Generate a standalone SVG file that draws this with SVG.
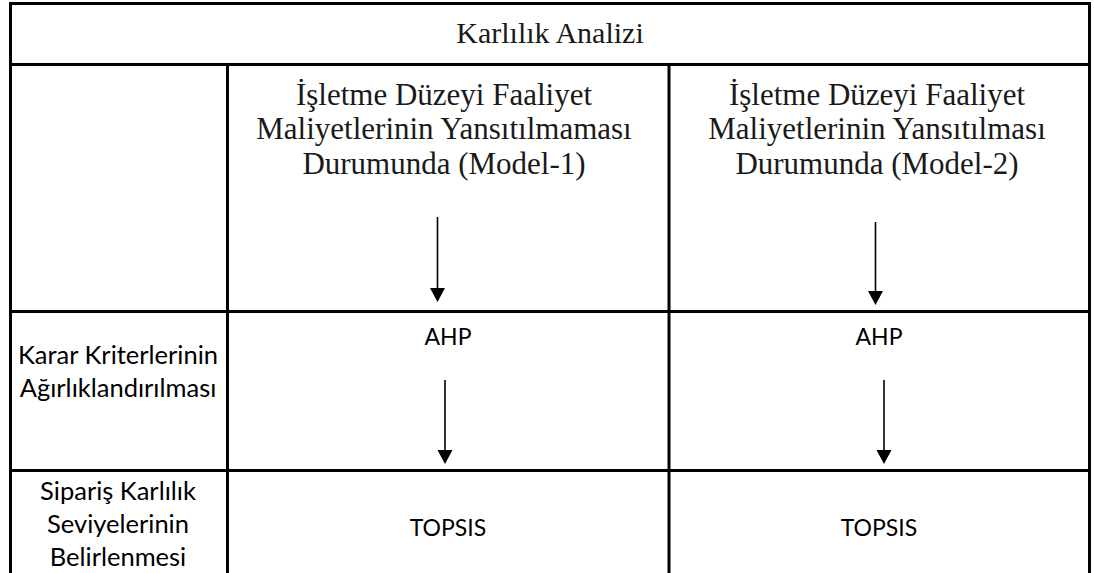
<svg xmlns="http://www.w3.org/2000/svg" width="1094" height="573" viewBox="0 0 1094 573">
<style>
.grid{stroke:#000;stroke-width:3;fill:none}
.serif{font-family:"Liberation Serif","Times New Roman",serif;font-size:31px;fill:#1a1a1a;text-anchor:middle}
.ttl{font-size:30px}
.sans{font-family:Lato,"Liberation Sans",sans-serif;font-size:25.5px;fill:#000;text-anchor:middle}
.cell{font-size:23px}
.arr{stroke:#000;stroke-width:1.6;fill:none}
</style>
<rect width="1094" height="573" fill="#fff"/>
<g id="table" class="grid">
<path d="M10.5 573V3.5H1089.5V573"/>
<path d="M9 64.5H1091"/>
<path d="M9 311.5H1091"/>
<path d="M9 470.5H1091"/>
<path d="M227.5 64.5V573"/>
<path d="M669 64.5V573"/>
</g>
<g id="title"><text class="serif ttl" x="550" y="43">Karlılık Analizi</text></g>
<g id="model1"><text class="serif" x="444" y="104.5">İşletme Düzeyi Faaliyet</text><text class="serif" x="444" y="139">Maliyetlerinin Yansıtılmaması</text><text class="serif" x="444" y="173.5">Durumunda (Model-1)</text></g>
<g id="model2"><text class="serif" x="877" y="104.5">İşletme Düzeyi Faaliyet</text><text class="serif" x="877" y="139">Maliyetlerinin Yansıtılması</text><text class="serif" x="877" y="173.5">Durumunda (Model-2)</text></g>
<g id="label-ahp"><text class="sans" x="118" y="364">Karar Kriterlerinin</text><text class="sans" x="118" y="397">Ağırlıklandırılması</text></g>
<g id="label-topsis"><text class="sans" x="118" y="500">Sipariş Karlılık</text><text class="sans" x="118" y="533">Seviyelerinin</text><text class="sans" x="118" y="566">Belirlenmesi</text></g>
<g id="ahp1"><text class="sans cell" x="448" y="345">AHP</text></g>
<g id="ahp2"><text class="sans cell" x="879" y="345">AHP</text></g>
<g id="topsis1"><text class="sans cell" x="448" y="536">TOPSIS</text></g>
<g id="topsis2"><text class="sans cell" x="879" y="536">TOPSIS</text></g>
<g id="connectors">
<path class="arr" d="M437.5 217V290"/><path d="M430 288H445L437.5 302Z"/>
<path class="arr" d="M875.5 222V293"/><path d="M868 291H883L875.5 305Z"/>
<path class="arr" d="M445 380V452"/><path d="M437.5 450H452.5L445 464Z"/>
<path class="arr" d="M884 380V452"/><path d="M876.5 450H891.5L884 464Z"/>
</g>
</svg>
